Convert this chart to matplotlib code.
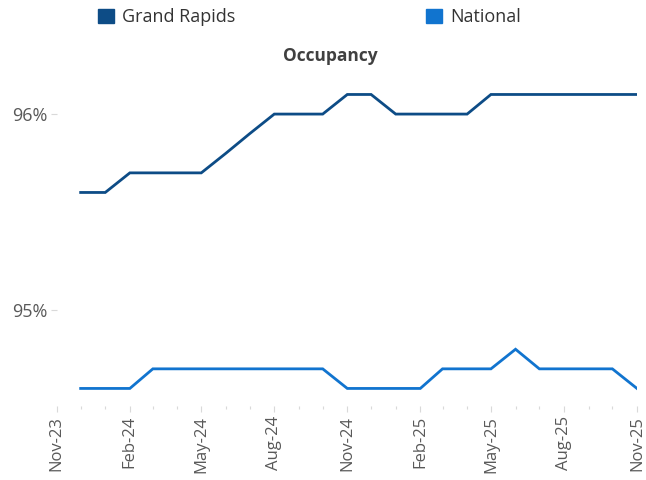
import matplotlib.pyplot as plt
import matplotlib.dates as mdates
import matplotlib.patches as mpatches
import pandas as pd

plt.rcParams['font.family'] = ['Open Sans', 'DejaVu Sans']

# monthly occupancy, Dec-23 .. Nov-25
months = pd.date_range('2023-12-01', '2025-11-01', freq='MS')
grand_rapids = [95.6, 95.6, 95.7, 95.7, 95.7, 95.7, 95.8, 95.9, 96.0, 96.0, 96.0, 96.1,
                96.1, 96.0, 96.0, 96.0, 96.0, 96.1, 96.1, 96.1, 96.1, 96.1, 96.1, 96.1]
national = [94.6, 94.6, 94.6, 94.7, 94.7, 94.7, 94.7, 94.7, 94.7, 94.7, 94.7, 94.6,
            94.6, 94.6, 94.6, 94.7, 94.7, 94.7, 94.8, 94.7, 94.7, 94.7, 94.7, 94.6]
y_ticks = [95, 96]
y_labels = ['95%', '96%']

gr_color = '#0D4C86'
nat_color = '#1174CF'
gray = '#595959'

fig = plt.figure(figsize=(6.46, 4.8), dpi=100)
ax = fig.add_axes([0.088, 0.154, 0.898, 0.69])

ax.plot(months, grand_rapids, color=gr_color, lw=2.0, solid_joinstyle='miter')
ax.plot(months, national, color=nat_color, lw=2.0, solid_joinstyle='miter')

ax.set_xlim(pd.Timestamp('2023-11-01'), pd.Timestamp('2025-11-01'))
ax.set_ylim(94.51, 96.2)

ax.xaxis.set_major_locator(mdates.MonthLocator(bymonth=[2, 5, 8, 11]))
ax.xaxis.set_minor_locator(mdates.MonthLocator())
ax.xaxis.set_major_formatter(mdates.DateFormatter('%b-%y'))
ax.set_yticks(y_ticks)
ax.set_yticklabels(y_labels)

for s in ax.spines.values():
    s.set_visible(False)
ax.tick_params(axis='x', which='both', colors='#D9D9D9', length=4, width=0.8,
               labelcolor=gray, labelsize=12, labelrotation=90, pad=3)
ax.tick_params(axis='x', which='minor', length=2)
ax.tick_params(axis='y', colors='#D9D9D9', length=4, width=0.8,
               labelcolor=gray, labelsize=13, pad=3)

fig.text(330 / 646, 1 - 56 / 480, 'Occupancy', ha='center', va='center',
         fontsize=12.5, fontweight='bold', color='#404040')

handles = [mpatches.Patch(color=gr_color, label='Grand Rapids'),
           mpatches.Patch(color=nat_color, label='National')]
fig.legend(handles=handles, loc='center left', bbox_to_anchor=(0.152, 1 - 17 / 480),
           ncol=2, frameon=False, fontsize=13, handlelength=0.85, handleheight=0.85,
           handletextpad=0.45, columnspacing=10.6, borderaxespad=0, borderpad=0,
           labelcolor='#333333')

fig.savefig('out.png', dpi=100)
